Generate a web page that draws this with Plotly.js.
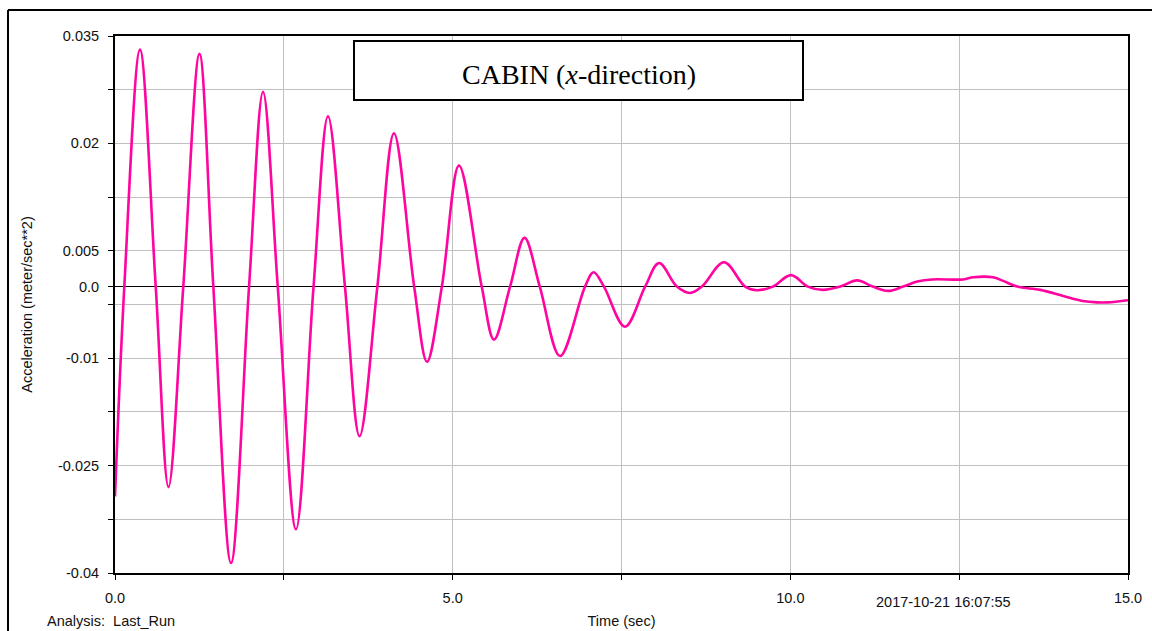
<!DOCTYPE html>
<html>
<head>
<meta charset="utf-8">
<script src="https://cdn.plot.ly/plotly-3.0.1.min.js"></script>
<style>html,body{margin:0;padding:0;background:#fff;}#chart{width:1152px;height:631px;}</style>
</head>
<body>
<div id="chart"></div>
<script>
// Data
const timeSec = [0, 0.138, 0.370, 0.603, 0.792, 1.011, 1.251, 1.456, 1.718, 1.985, 2.192, 2.41, 2.680, 2.94, 3.154, 3.405, 3.621, 3.885, 4.131, 4.43, 4.620, 4.84, 5.094, 5.43, 5.612, 5.85, 6.064, 6.29, 6.590, 6.96, 7.086, 7.24, 7.552, 7.85, 8.056, 8.32, 8.515, 8.69, 9.018, 9.33, 9.507, 9.74, 10.01, 10.26, 10.48, 10.74, 10.99, 11.22, 11.45, 11.67, 11.88, 12.10, 12.56, 12.71, 13.00, 13.15, 13.36, 13.70, 14.04, 14.33, 14.54, 14.70, 15.0];
const accel = [-0.0293, 0, 0.0331, 0, -0.0280, 0, 0.0325, 0, -0.0386, 0, 0.0272, 0, -0.0339, 0, 0.0238, 0, -0.0209, 0, 0.0214, 0, -0.0105, 0, 0.0169, 0, -0.0074, 0, 0.0068, 0, -0.0097, 0, 0.0020, 0, -0.0056, 0, 0.0033, 0, -0.0009, 0, 0.0034, 0, -0.0005, 0, 0.0016, 0, -0.00046, 0, 0.00087, 0, -0.0006, 0, 0.0007, 0.0010, 0.0010, 0.0013, 0.0013, 0.0008, 0, -0.00046, -0.0013, -0.0020, -0.0022, -0.0022, -0.0019];

const xTickVals = [0, 2.5, 5, 7.5, 10, 12.5, 15];
const xTickText = ['0.0', '', '5.0', '', '10.0', '', '15.0'];
const yTickVals = [0.035, 0.0275, 0.02, 0.0125, 0.005, 0, -0.0025, -0.01, -0.0175, -0.025, -0.0325, -0.04];
const yTickText = ['0.035', '', '0.02', '', '0.005', '0.0', '', '-0.01', '', '-0.025', '', '-0.04'];

const chartTitle = 'CABIN (<i>x</i>-direction)';
const xTitle = 'Time (sec)';
const yTitle = 'Acceleration (meter/sec**2)';
const analysisLabel = 'Analysis:&nbsp;&nbsp;Last_Run';
const dateLabel = '2017-10-21 16:07:55';

// pixel -> paper helpers (plot area 115..1128 x 36..573)
const L = 115, R = 1128, T = 36, B = 573;
const PX = p => (p - L) / (R - L);
const PY = p => (B - p) / (B - T);

const sans = 'Arial, "Liberation Sans", sans-serif';
const serif = '"Times New Roman", "Liberation Serif", serif';
const fs = 14.5;

const trace = {
  x: timeSec, y: accel, type: 'scatter', mode: 'lines',
  line: {color: '#ff05a0', width: 2.6, shape: 'spline', smoothing: 1},
  hoverinfo: 'x+y'
};

const axisCommon = {
  showgrid: true, gridcolor: '#c0c0c0', gridwidth: 1,
  showline: true, linecolor: '#000', linewidth: 2, mirror: true,
  ticks: 'outside', ticklen: 5, tickcolor: '#000', tickwidth: 1,
  tickfont: {family: sans, size: fs, color: '#111'},
  tickmode: 'array', fixedrange: true
};

const layout = {
  width: 1152, height: 631,
  margin: {l: L, r: 1152 - R, t: T, b: 631 - B, pad: 0},
  paper_bgcolor: '#fff', plot_bgcolor: '#fff',
  showlegend: false,
  xaxis: Object.assign({}, axisCommon, {
    range: [0, 15], tickvals: xTickVals, ticktext: xTickText,
    zeroline: false, ticklabelstandoff: 6,
    title: {text: xTitle, font: {family: sans, size: fs, color: '#111'}, standoff: 10}
  }),
  yaxis: Object.assign({}, axisCommon, {
    range: [-0.04, 0.035], tickvals: yTickVals, ticktext: yTickText,
    zeroline: true, zerolinecolor: '#000', zerolinewidth: 1.5, ticklabelstandoff: 6,
    title: {text: yTitle, font: {family: sans, size: fs, color: '#111'}, standoff: 22}
  }),
  shapes: [
    {type: 'line', xref: 'paper', yref: 'paper', x0: PX(8), x1: PX(1160), y0: PY(10), y1: PY(10), line: {color: '#000', width: 2}},
    {type: 'line', xref: 'paper', yref: 'paper', x0: PX(8), x1: PX(8), y0: PY(10), y1: PY(640), line: {color: '#000', width: 2}},
    {type: 'rect', xref: 'paper', yref: 'paper', x0: PX(354), x1: PX(803), y0: PY(100), y1: PY(41), line: {color: '#000', width: 2}, fillcolor: '#fff', layer: 'above'}
  ],
  annotations: [
    {text: chartTitle, xref: 'paper', yref: 'paper', x: PX(579), y: PY(75), xanchor: 'center', yanchor: 'middle', showarrow: false, font: {family: serif, size: 28, color: '#000'}},
    {text: dateLabel, xref: 'paper', yref: 'paper', x: PX(943), y: PY(602), xanchor: 'center', yanchor: 'middle', showarrow: false, font: {family: sans, size: fs, color: '#111'}},
    {text: analysisLabel, xref: 'paper', yref: 'paper', x: PX(45), y: PY(621), xanchor: 'left', yanchor: 'middle', showarrow: false, font: {family: sans, size: fs, color: '#111'}}
  ]
};

Plotly.newPlot('chart', [trace], layout, {displayModeBar: false, staticPlot: true});
</script>
</body>
</html>
